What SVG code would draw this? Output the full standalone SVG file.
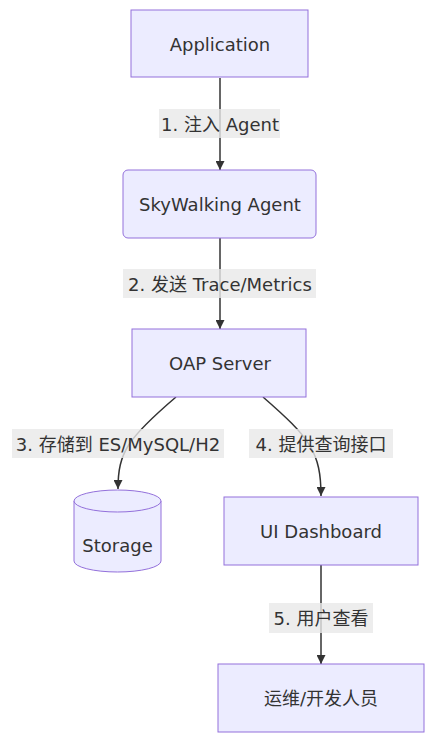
<svg xmlns="http://www.w3.org/2000/svg" width="434" height="739" viewBox="0 0 434 739">
<style>
.node rect,.node path,.node ellipse{fill:#ECECFF;stroke:#9370DB;stroke-width:1}
text{font-family:"DejaVu Sans","Noto Sans CJK SC",sans-serif;font-size:18px;fill:#333;text-anchor:middle;dominant-baseline:central}
.edge{fill:none;stroke:#333;stroke-width:1.5;marker-end:url(#arr)}
.lbl{fill:#e8e8e8;opacity:0.8}
</style>
<defs>
<marker id="arr" viewBox="0 0 10 10" refX="10" refY="5" markerWidth="9" markerHeight="9" markerUnits="userSpaceOnUse" orient="auto">
<path d="M0,0 L10,5 L0,10 z" fill="#333"/>
</marker>
</defs>
<g id="connectors">
<path class="edge" d="M220,78 L220,170"/>
<path class="edge" d="M220,238 L220,329"/>
<path class="edge" d="M176,397 C128,438 118,452 118,489"/>
<path class="edge" d="M263,397 C310,438 321,452 321,496"/>
<path class="edge" d="M321,565 L321,664"/>
<rect class="lbl" x="159" y="109" width="121" height="29"/>
<text x="220" y="124">1. 注入 Agent</text>
<rect class="lbl" x="123" y="269" width="193" height="29"/>
<text x="220" y="284">2. 发送 Trace/Metrics</text>
<rect class="lbl" x="12" y="429" width="212" height="29"/>
<text x="118" y="444">3. 存储到 ES/MySQL/H2</text>
<rect class="lbl" x="249" y="429" width="144" height="29"/>
<text x="321" y="444">4. 提供查询接口</text>
<rect class="lbl" x="269" y="603" width="104" height="30"/>
<text x="321" y="618">5. 用户查看</text>
</g>
<g id="app" class="node"><rect x="131" y="10" width="177" height="67"/><text x="220" y="44">Application</text></g>
<g id="agent" class="node"><rect x="123" y="170" width="193" height="68" rx="5" ry="5"/><text x="220" y="204">SkyWalking Agent</text></g>
<g id="oap" class="node"><rect x="132" y="329" width="174" height="68"/><text x="220" y="363">OAP Server</text></g>
<g id="storage" class="node"><path d="M74,501 A43.5,11 0 0 1 161,501 L161,561 A43.5,11 0 0 1 74,561 Z"/><path d="M74,501 A43.5,11 0 0 0 161,501" fill="none"/><text x="117.5" y="545">Storage</text></g>
<g id="ui" class="node"><rect x="224" y="497" width="194" height="68"/><text x="321" y="531">UI Dashboard</text></g>
<g id="ops" class="node"><rect x="218" y="664" width="206" height="68"/><text x="321" y="698">运维/开发人员</text></g>
</svg>
